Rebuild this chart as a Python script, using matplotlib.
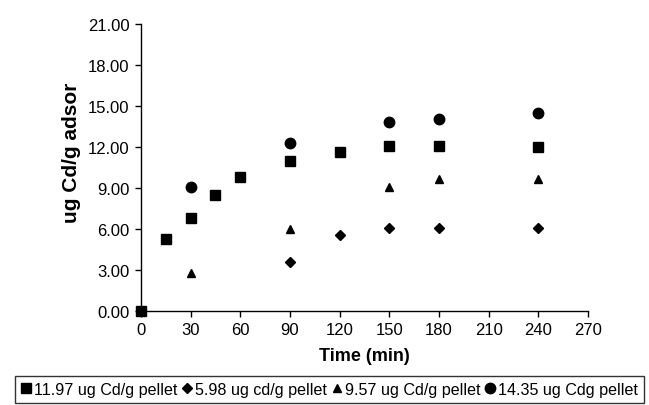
import numpy as np
import matplotlib.pyplot as plt

plt.rcParams['font.family'] = ['Liberation Sans', 'DejaVu Sans']

# ---------------- data ----------------
t_sq = [0, 15, 30, 45, 60, 90, 120, 150, 180, 240]
y_sq = [0.0, 5.3, 6.8, 8.5, 9.8, 11.0, 11.65, 12.05, 12.1, 12.0]

t_di = [90, 120, 150, 180, 240]
y_di = [3.6, 5.55, 6.05, 6.05, 6.05]

t_tr = [30, 90, 150, 180, 240]
y_tr = [2.8, 6.0, 9.05, 9.65, 9.65]

t_ci = [30, 90, 150, 180, 240]
y_ci = [9.05, 12.3, 13.85, 14.05, 14.45]

labels = ["11.97 ug Cd/g pellet", "5.98 ug cd/g pellet",
          "9.57 ug Cd/g pellet", "14.35 ug Cdg pellet"]

xticks = np.arange(0, 271, 30)
yticks = np.arange(0, 21.01, 3)

# ---------------- plot ----------------
fig = plt.figure(figsize=(6.49, 4.06), dpi=100)
ax = fig.add_axes([0.217, 0.2315, 0.689, 0.707])

ax.plot(t_sq, y_sq, 's', color='black', ms=7.3, clip_on=False, label=labels[0])
ax.plot(t_di, y_di, 'D', color='black', ms=5.3, label=labels[1])
ax.plot(t_tr, y_tr, '^', color='black', ms=6.3, label=labels[2])
ax.plot(t_ci, y_ci, 'o', color='black', ms=7.5, label=labels[3])

ax.set_xlim(0, 270)
ax.set_ylim(0, 21)
ax.set_xticks(xticks)
ax.set_yticks(yticks)
ax.set_yticklabels(["%.2f" % v for v in yticks])
ax.tick_params(direction='out', length=4, width=1, labelsize=12, pad=4)

for s in ['top', 'right']:
    ax.spines[s].set_visible(False)
ax.spines['left'].set_linewidth(1)
ax.spines['bottom'].set_linewidth(1)

ax.set_xlabel("Time (min)", fontsize=13, fontweight='bold', labelpad=7)
ax.set_ylabel("ug Cd/g adsor", fontsize=15, fontweight='bold')
ax.yaxis.set_label_coords(-0.133, 0.555)

leg = fig.legend(loc='lower center', bbox_to_anchor=(0.508, 0.0), ncol=4,
                 fontsize=11.6, frameon=True, fancybox=False, edgecolor='black',
                 handletextpad=0.2, columnspacing=0.3, handlelength=0.6,
                 borderpad=0.4, borderaxespad=0.1, markerscale=1.0)
leg.get_frame().set_linewidth(1)

plt.savefig("out.png", dpi=100)
